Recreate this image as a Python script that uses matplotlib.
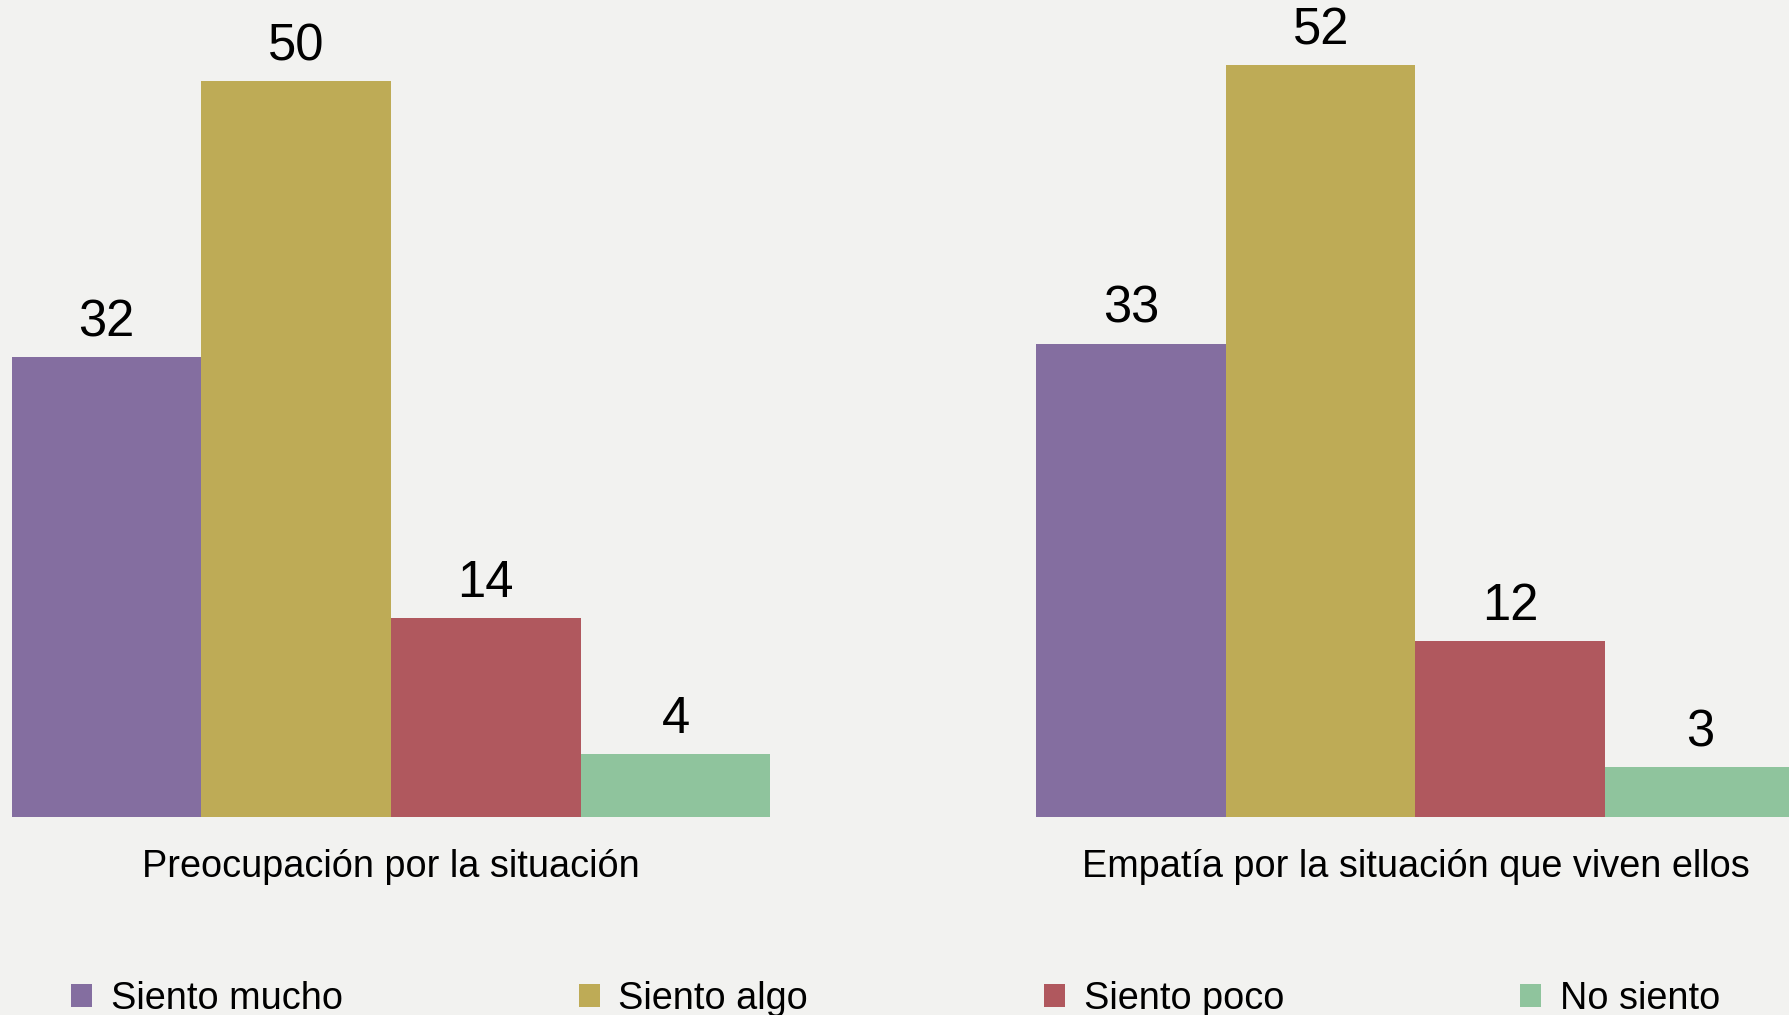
import numpy as np
import matplotlib
matplotlib.use("Agg")
import matplotlib.pyplot as plt
from matplotlib.transforms import blended_transform_factory

# === DATA ===
categories = ["Preocupación por la situación", "Empatía por la situación que viven ellos"]
series_names = ["Siento mucho", "Siento algo", "Siento poco", "No siento"]
# bar heights
siento_mucho = [31.7, 32.6]
siento_algo = [50.7, 51.8]
siento_poco = [13.7, 12.1]
no_siento = [4.3, 3.4]
# values printed above the bars
labels_mucho = [32, 33]
labels_algo = [50, 52]
labels_poco = [14, 12]
labels_no = [4, 3]

# === STYLE ===
COLORS = ["#846EA0", "#BEAB56", "#B0585E", "#8FC49D"]
BG = "#F2F2F0"
plt.rcParams["font.family"] = ["Liberation Sans", "DejaVu Sans"]

W, H, DPI = 1790, 1015, 100
fig = plt.figure(figsize=(W / DPI, H / DPI), dpi=DPI, facecolor=BG)

# axes spans the whole width; the right group runs off the edge like the original
base_px = 816.5
ax = fig.add_axes([0, (H - base_px) / H, 1, base_px / H])
ax.set_facecolor(BG)

px_per_group = 1024.5
left_center_px = 391.0
ax.set_xlim(-left_center_px / px_per_group, (W - left_center_px) / px_per_group)
ax.set_ylim(0, base_px / 14.5)

x = np.arange(len(categories))
width = 189.7 / px_per_group
all_series = [siento_mucho, siento_algo, siento_poco, no_siento]
all_labels = [labels_mucho, labels_algo, labels_poco, labels_no]

bars = []
for i, (name, vals, labs) in enumerate(zip(series_names, all_series, all_labels)):
    b = ax.bar(x + (i - 1.5) * width, vals, width, color=COLORS[i], label=name,
               edgecolor="none")
    bars.append(b)
    for rect, lab in zip(b, labs):
        ax.annotate(str(lab), (rect.get_x() + rect.get_width() / 2, rect.get_height()),
                    xytext=(0, 15), textcoords="offset points",
                    ha="center", va="baseline", fontsize=36.5, color="black")

for spine in ax.spines.values():
    spine.set_visible(False)
ax.set_xticks([])
ax.set_yticks([])

# category labels under each group
trans = blended_transform_factory(ax.transData, fig.transFigure)
for xi, cat in zip(x, categories):
    ax.text(xi, 1 - 877 / H, cat, transform=trans, ha="center", va="baseline",
            fontsize=27.3, color="black", clip_on=False)

leg = fig.legend(handles=bars, labels=series_names, ncol=4, loc="lower left",
                 bbox_to_anchor=(71 / W, -2 / H), frameon=False, fontsize=27.3,
                 handlelength=0.55, handleheight=0.55, handletextpad=0.5,
                 columnspacing=6.22, borderaxespad=0, borderpad=0)

fig.savefig("out.png", dpi=DPI, facecolor=BG)
